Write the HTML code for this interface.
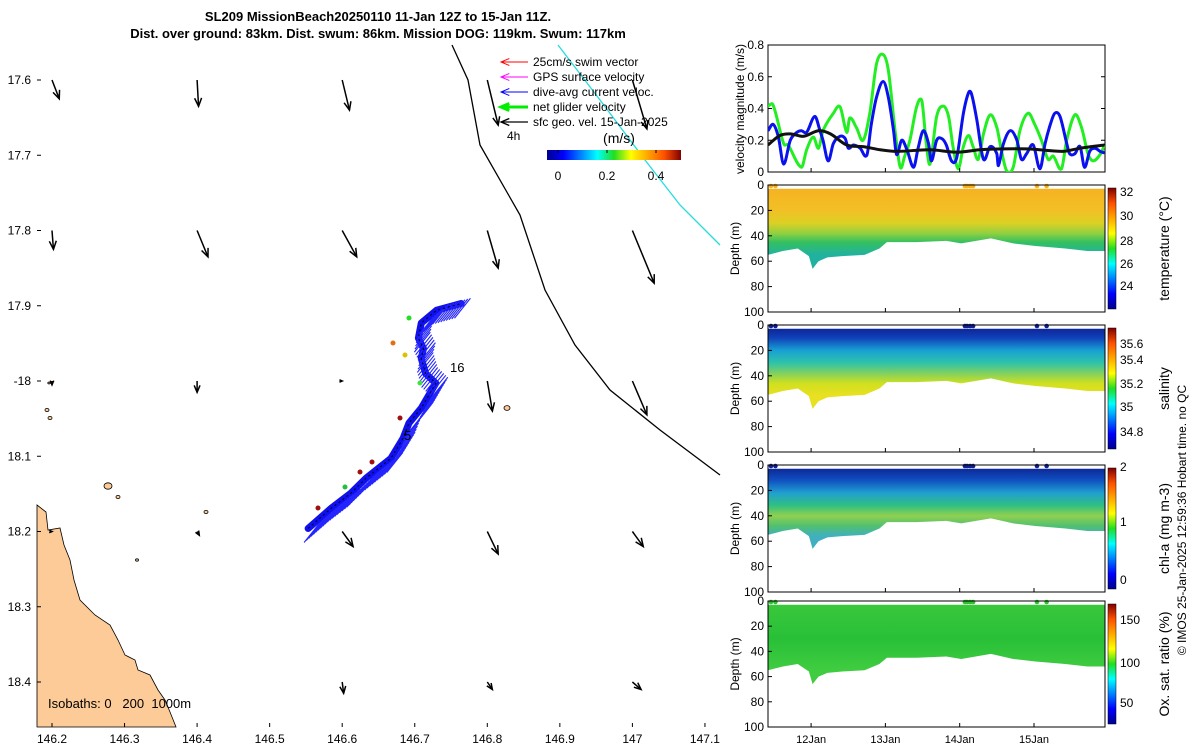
<!DOCTYPE html>
<html><head><meta charset="utf-8">
<style>
html,body{margin:0;padding:0;background:#fff;}
svg{display:block;font-family:"Liberation Sans","DejaVu Sans",sans-serif;}
</style></head>
<body>
<svg id="fig" width="1200" height="750" viewBox="0 0 1200 750" xmlns="http://www.w3.org/2000/svg">
<defs>
<linearGradient id="jetH" x1="0" y1="0" x2="1" y2="0">
<stop offset="0" stop-color="#00008f"/><stop offset="0.125" stop-color="#0000ff"/><stop offset="0.375" stop-color="#00ffff"/><stop offset="0.5" stop-color="#22dd22"/><stop offset="0.625" stop-color="#ffff00"/><stop offset="0.875" stop-color="#ff5000"/><stop offset="1" stop-color="#800000"/>
</linearGradient>
<linearGradient id="jetV" x1="0" y1="1" x2="0" y2="0">
<stop offset="0" stop-color="#00008f"/><stop offset="0.125" stop-color="#0000ff"/><stop offset="0.375" stop-color="#00ffff"/><stop offset="0.5" stop-color="#22dd22"/><stop offset="0.625" stop-color="#ffff00"/><stop offset="0.875" stop-color="#ff5000"/><stop offset="1" stop-color="#800000"/>
</linearGradient>
<linearGradient id="gTemp" x1="0" y1="0" x2="0" y2="1">
<stop offset="0" stop-color="#f6b020"/><stop offset="0.2" stop-color="#f2c026"/><stop offset="0.3" stop-color="#dcd024"/><stop offset="0.38" stop-color="#90d040"/><stop offset="0.45" stop-color="#34c060"/><stop offset="0.55" stop-color="#20b2a0"/>
</linearGradient>
<linearGradient id="gSal" x1="0" y1="0" x2="0" y2="1">
<stop offset="0" stop-color="#0c1c8c"/><stop offset="0.1" stop-color="#1040b8"/><stop offset="0.2" stop-color="#18a0d4"/><stop offset="0.3" stop-color="#30c4a8"/><stop offset="0.38" stop-color="#80d060"/><stop offset="0.46" stop-color="#d0e020"/><stop offset="0.55" stop-color="#e8e020"/>
</linearGradient>
<linearGradient id="gChl" x1="0" y1="0" x2="0" y2="1">
<stop offset="0" stop-color="#0c1c8c"/><stop offset="0.12" stop-color="#1050c0"/><stop offset="0.22" stop-color="#20a0d0"/><stop offset="0.32" stop-color="#30c080"/><stop offset="0.4" stop-color="#90d050"/><stop offset="0.48" stop-color="#50c070"/><stop offset="0.56" stop-color="#40b0c0"/>
</linearGradient>
<linearGradient id="gOx" x1="0" y1="0" x2="0" y2="1">
<stop offset="0" stop-color="#3cc83c"/><stop offset="0.3" stop-color="#28c038"/><stop offset="0.55" stop-color="#40cc40"/>
</linearGradient>
</defs>
<g id="root"></g>
</svg>
<script>
// ---- velocity panel data (days since panel start, m/s) ----
const greenT=[0,0.07,0.21,0.27,0.45,0.52,0.61,0.68,0.74,0.88,0.97,1.06,1.10,1.19,1.28,1.37,1.46,1.55,1.62,1.71,1.78,1.84,1.91,2.00,2.07,2.13,2.18,2.27,2.36,2.43,2.49,2.56,2.63,2.70,2.76,2.83,2.90,2.99,3.08,3.14,3.21,3.30,3.39,3.50,3.59,3.68,3.77,3.84,3.95,4.02,4.13,4.22,4.31,4.38,4.47,4.53];
const greenV=[0.415,0.42,0.18,0.17,0.03,0.14,0.22,0.15,0.26,0.37,0.41,0.25,0.34,0.28,0.20,0.37,0.68,0.74,0.64,0.26,0.03,0.10,0.20,0.41,0.45,0.18,0.05,0.35,0.415,0.35,0.16,0.02,0.16,0.23,0.16,0.08,0.24,0.36,0.28,0.14,0.01,0.03,0.26,0.37,0.30,0.20,0.08,0.10,0.02,0.20,0.36,0.28,0.11,0.07,0.11,0.17];
const blueT=[0,0.07,0.14,0.21,0.30,0.39,0.45,0.52,0.63,0.70,0.74,0.81,0.88,0.97,1.04,1.08,1.15,1.24,1.33,1.39,1.46,1.55,1.62,1.69,1.73,1.80,1.87,1.96,2.02,2.09,2.16,2.20,2.27,2.34,2.40,2.47,2.54,2.63,2.70,2.74,2.81,2.90,2.99,3.08,3.10,3.17,3.26,3.35,3.41,3.48,3.57,3.66,3.73,3.80,3.86,3.93,4.02,4.06,4.13,4.20,4.26,4.33,4.40,4.47,4.53];
const blueV=[0.26,0.30,0.22,0.05,0.20,0.25,0.26,0.25,0.35,0.26,0.20,0.07,0.18,0.225,0.21,0.15,0.17,0.15,0.105,0.30,0.47,0.57,0.47,0.26,0.11,0.20,0.14,0.03,0.15,0.26,0.18,0.07,0.20,0.21,0.17,0.07,0.09,0.37,0.50,0.49,0.33,0.08,0.16,0.115,0.04,0.18,0.26,0.20,0.08,0.115,0.17,0.02,0.18,0.30,0.37,0.35,0.18,0.115,0.115,0.16,0.03,0.13,0.15,0.13,0.12];
const blackT=[0,0.16,0.30,0.48,0.68,0.84,1.06,1.28,1.51,1.73,2.18,2.54,2.85,3.08,3.52,3.97,4.20,4.53];
const blackV=[0.17,0.23,0.24,0.225,0.26,0.24,0.17,0.16,0.14,0.13,0.14,0.125,0.14,0.145,0.145,0.13,0.15,0.17];
const velTicks=[0,0.2,0.4,0.6,0.8];
const dayTicks=["12Jan","13Jan","14Jan","15Jan"];
const dayTickPos=[0.58,1.58,2.58,3.58];
// dive bottom depth (m) over time
const diveT=[0,0.2,0.4,0.55,0.6,0.68,0.8,1.0,1.3,1.5,1.6,2.0,2.4,2.6,3.0,3.3,3.6,4.0,4.3,4.53];
const diveD=[55,52,50,56,66,60,57,56,55,50,45,45,44,46,42,46,48,50,52,52];
// surface-dot times (days)
const surfT=[0.04,0.1,2.65,2.68,2.72,2.76,3.62,3.75];
// map: wind arrows (lon, lat, dlon, dlat in degrees)
const arrLon=[146.2,146.4,146.6,146.8,147.0,146.2,146.4,146.6,146.8,147.0,146.2,146.4,146.6,146.8,147.0,146.2,146.4,146.6,146.8,147.0,146.6,146.8,147.0];
const arrLat=[17.6,17.6,17.6,17.6,17.6,17.8,17.8,17.8,17.8,17.8,18.0,18.0,18.0,18.0,18.0,18.2,18.2,18.2,18.2,18.2,18.4,18.4,18.4];
const arrDx=[0.01,0.002,0.01,0.015,0.02,0.002,0.015,0.02,0.015,0.03,0.0,0.0,0.0,0.007,0.02,0.0,0.003,0.015,0.015,0.015,0.002,0.007,0.012];
const arrDy=[0.025,0.035,0.04,0.06,0.065,0.025,0.035,0.035,0.05,0.07,0.005,0.015,0.0,0.04,0.045,0.0,0.005,0.02,0.03,0.02,0.015,0.01,0.01];
const lonTicks=[146.2,146.3,146.4,146.5,146.6,146.7,146.8,146.9,147,147.1];
const latTicks=[17.6,17.7,17.8,17.9,18.0,18.1,18.2,18.3,18.4];
const latLabels=["17.6","17.7","17.8","17.9","-18","18.1","18.2","18.3","18.4"];
const trackLon=[146.553,146.585,146.612,146.633,146.667,146.684,146.692,146.709,146.729,146.715,146.709,146.712,146.705,146.709,146.730,146.764];
const trackLat=[18.196,18.169,18.149,18.129,18.103,18.076,18.056,18.036,18.003,17.990,17.970,17.957,17.943,17.923,17.906,17.897];

const NS='http://www.w3.org/2000/svg';
const root=document.getElementById('root');
function el(tag,attrs,parent,text){const e=document.createElementNS(NS,tag);for(const k in attrs)e.setAttribute(k,attrs[k]);if(text!==undefined)e.textContent=text;(parent||root).appendChild(e);return e;}

const mx0=37,mx1=720,my0=45,my1=727;
const lonX=l=>52+(l-146.2)*725.5;
const latY=l=>80+(l-17.6)*752.5;

const title=el('g',{},root);


el('text',{x:378,y:21,'text-anchor':'middle','font-size':13,'font-weight':'bold'},title,'SL209 MissionBeach20250110 11-Jan 12Z to 15-Jan 11Z.');
el('text',{x:378,y:38,'text-anchor':'middle','font-size':13,'font-weight':'bold'},title,'Dist. over ground: 83km. Dist. swum: 86km. Mission DOG: 119km. Swum: 117km');

const coast=el('path',{d:'M37,727 L37,505 L46,512 L48,530 L60,528 L64,545 L70,560 L74,580 L80,600 L95,615 L110,625 L118,640 L125,655 L135,660 L138,670 L150,675 L158,690 L165,700 L170,712 L176,727 Z',fill:'#fdcb98',stroke:'#000','stroke-width':0.8});


[[47,410,2],[50,418,2],[108,486,4],[118,497,2],[206,512,2],[137,560,1.5],[507,408,3],[49,383,1.2]].forEach(p=>{
 const i=el('ellipse',{cx:p[0],cy:p[1],rx:p[2],ry:p[2]*0.8,fill:'#fdcb98',stroke:'#000','stroke-width':0.8});
 
 
});

const iso=el('polyline',{points:'452,45 468,80 480,145 520,215 545,290 575,345 610,390 660,430 720,475',fill:'none',stroke:'#000','stroke-width':1.3});


const cy=el('polyline',{points:'558,45 600,100 645,160 680,205 720,245',fill:'none',stroke:'#22dddd','stroke-width':1.3});



function arrow(x1,y1,x2,y2,color,w,parent){
 const g=el('g',{},parent);
 el('line',{x1:x1,y1:y1,x2:x2,y2:y2,stroke:color,'stroke-width':w},g);
 const a=Math.atan2(y2-y1,x2-x1),L=Math.min(9,Math.hypot(x2-x1,y2-y1)*0.4+3);
 el('polyline',{points:`${x2-L*Math.cos(a-0.4)},${y2-L*Math.sin(a-0.4)} ${x2},${y2} ${x2-L*Math.cos(a+0.4)},${y2-L*Math.sin(a+0.4)}`,fill:'none',stroke:color,'stroke-width':w},g);
 return g;
}
for(let i=0;i<arrLon.length;i++){
 const x=lonX(arrLon[i]),y=latY(arrLat[i]);
 const g=arrow(x,y,lonX(arrLon[i]+arrDx[i]),latY(arrLat[i]+arrDy[i]),'#000',1.5);
 
 
}

// glider track
const tg=el('g',{},root);


const pts=trackLon.map((l,i)=>lonX(l)+','+latY(trackLat[i])).join(' ');
el('polyline',{points:pts,fill:'none',stroke:'#1010ee','stroke-width':7,'stroke-linejoin':'round','stroke-linecap':'round'},tg);
for(let i=0;i<trackLon.length-1;i++){
 const x1=lonX(trackLon[i]),y1=latY(trackLat[i]),x2=lonX(trackLon[i+1]),y2=latY(trackLat[i+1]);
 const n=Math.max(3,Math.round(Math.hypot(x2-x1,y2-y1)/3));
 for(let k=0;k<n;k++){const f=k/n;const x=x1+(x2-x1)*f,y=y1+(y2-y1)*f;
  el('line',{x1:x-4,y1:y+14,x2:x+12,y2:y-6,stroke:'#2424ff','stroke-width':1.1},tg);}
}
el('polyline',{points:pts,fill:'none',stroke:'#000','stroke-width':1,'stroke-dasharray':'2,3'},tg);
[[393,343,'#e07010'],[405,355,'#e0c000'],[420,383,'#40e040'],[400,418,'#a01010'],[372,462,'#a01010'],[360,472,'#a01010'],[345,487,'#20c040'],[318,508,'#a01010'],[409,318,'#20e020']].forEach(p=>{
 el('circle',{cx:p[0],cy:p[1],r:2.5,fill:p[2]},tg);
});
el('text',{x:450,y:372,'font-size':13},root,'16');
el('text',{x:404,y:440,'font-size':13},root,'5');
el('text',{x:507,y:140,'font-size':12},root,'4h');
el('text',{x:48,y:708,'font-size':13},root,'Isobaths: 0\u00a0\u00a0\u00a0200\u00a0\u00a01000m');

const lg=el('g',{},root);


const legItems=[['25cm/s swim vector','#ff0000',1],['GPS surface velocity','#ff00ff',1],['dive-avg current veloc.','#0000ff',1],['net glider velocity','#00ee00',3],['sfc geo. vel. 15-Jan-2025','#000',1.3]];
legItems.forEach((it,i)=>{
 const y=62+i*15;
 const e=el('g',{},lg);
 
 
 arrow(528,y,501,y,it[1],it[2],e);
 el('text',{x:533,y:y+4,'font-size':12},e,it[0]);
});
const cbg=el('g',{},root);


el('text',{x:619,y:143,'font-size':14,'text-anchor':'middle'},cbg,'(m/s)');
el('rect',{x:547,y:150,width:134,height:10,fill:'url(#jetH)'},cbg);
[[558,'0'],[607,'0.2'],[656,'0.4']].forEach(t=>{el('text',{x:t[0],y:180,'font-size':12,'text-anchor':'middle'},cbg,t[1]);el('line',{x1:t[0],y1:150,x2:t[0],y2:153,stroke:'#000'},cbg);});

const ax=el('g',{},root);


lonTicks.forEach(l=>{const x=lonX(l);el('line',{x1:x,y1:my1,x2:x,y2:my1-4,stroke:'#000'},ax);el('text',{x:x,y:743,'font-size':12,'text-anchor':'middle'},ax,String(l));});
latTicks.forEach((l,i)=>{const y=latY(l);el('line',{x1:mx0,y1:y,x2:mx0+4,y2:y,stroke:'#000'},ax);el('text',{x:31,y:y+4,'font-size':12,'text-anchor':'end'},ax,latLabels[i]);});

const px0=768,px1=1105;
const tX=t=>px0+t*74.3;
function smoothPath(xs,ys){let d=`M${xs[0]},${ys[0]}`;const n=xs.length;
 for(let i=0;i<n-1;i++){const i0=Math.max(0,i-1),i3=Math.min(n-1,i+2);
  const lo=Math.min(ys[i],ys[i+1])-4,hi=Math.max(ys[i],ys[i+1])+4,cl=v=>Math.max(lo,Math.min(hi,v));
  const dx=xs[i+1]-xs[i];
  const m1=(ys[i+1]-ys[i0])/((xs[i+1]-xs[i0])||1),m2=(ys[i3]-ys[i])/((xs[i3]-xs[i])||1);
  d+=` C${xs[i]+dx/3},${cl(ys[i]+m1*dx/3)} ${xs[i+1]-dx/3},${cl(ys[i+1]-m2*dx/3)} ${xs[i+1]},${ys[i+1]}`;}
 return d;}
const vy0=172,vy1=45;const vY=v=>vy0-(v/0.8)*(vy0-vy1);
const vp=el('g',{},root);


el('rect',{x:px0,y:vy1,width:px1-px0,height:vy0-vy1,fill:'#fff',stroke:'#000','stroke-width':1},vp);
velTicks.forEach(v=>{const y=vY(v);el('line',{x1:px0,y1:y,x2:px0+4,y2:y,stroke:'#000'},vp);el('line',{x1:px1,y1:y,x2:px1-4,y2:y,stroke:'#000'},vp);el('text',{x:764,y:y+4,'font-size':12,'text-anchor':'end'},vp,String(v));});
el('text',{x:0,y:0,'font-size':12,'text-anchor':'middle',transform:`translate(744,109) rotate(-90)`},vp,'velocity magnitude (m/s)');
const cl=el('clipPath',{id:'vclip'},root);el('rect',{x:px0,y:vy1,width:px1-px0,height:vy0-vy1},cl);
const gl=el('path',{d:smoothPath(greenT.map(tX),greenV.map(vY)),fill:'none',stroke:'#22ee22','stroke-width':3,'clip-path':'url(#vclip)'},vp);


const bl=el('path',{d:smoothPath(blueT.map(tX),blueV.map(vY)),fill:'none',stroke:'#0a10ee','stroke-width':3,'clip-path':'url(#vclip)'},vp);


const kl=el('path',{d:smoothPath(blackT.map(tX),blackV.map(vY)),fill:'none',stroke:'#111','stroke-width':3,'clip-path':'url(#vclip)'},vp);



const panels=[
 {y0:185,y1:312,grad:'gTemp',name:'temperature-panel',label:'temperature (°C)',ticks:[[24,286],[26,264],[28,241],[30,216],[32,192]],dot:'#f5b020'},
 {y0:325,y1:452,grad:'gSal',name:'salinity-panel',label:'salinity',ticks:[[34.8,432],[35,407],[35.2,384],[35.4,360],[35.6,344]],dot:'#102090'},
 {y0:465,y1:592,grad:'gChl',name:'chlorophyll-panel',label:'chl-a (mg m-3)',ticks:[[0,580],[1,522],[2,467]],dot:'#102090'},
 {y0:601,y1:727,grad:'gOx',name:'oxygen-panel',label:'Ox. sat. ratio (%)',ticks:[[50,703],[100,663],[150,620]],dot:'#30c030'}];
const depthTicks=[0,20,40,60,80,100];
panels.forEach((p,pi)=>{
 const g=el('g',{},root);
 
 
 const dY=d=>p.y0+d/100*(p.y1-p.y0);
 const h=p.y1-p.y0;
 let d=`M${px0},${dY(3)} L${px1},${dY(3)}`;
 for(let i=diveT.length-1;i>=0;i--)d+=` L${tX(diveT[i])},${dY(diveD[i])}`;
 d+=' Z';
 el('rect',{x:px0,y:p.y0,width:px1-px0,height:h,fill:'#fff'},g);
 const gr=el('linearGradient',{id:'pg'+pi,gradientUnits:'userSpaceOnUse',x1:0,y1:p.y0,x2:0,y2:p.y1},g);
 document.getElementById(p.grad).querySelectorAll('stop').forEach(s=>el('stop',{offset:s.getAttribute('offset'),'stop-color':s.getAttribute('stop-color')},gr));
 el('path',{d:d,fill:'url(#pg'+pi+')'},g);
 surfT.forEach(t=>el('circle',{cx:tX(t),cy:p.y0+1,r:2.3,fill:p.dot},g));
 el('rect',{x:px0,y:p.y0,width:px1-px0,height:h,fill:'none',stroke:'#000'},g);
 depthTicks.forEach(v=>{const y=dY(v);el('line',{x1:px0,y1:y,x2:px0+4,y2:y,stroke:'#000'},g);el('text',{x:764,y:y+4,'font-size':12,'text-anchor':'end'},g,String(v));});
 el('text',{x:0,y:0,'font-size':12,'text-anchor':'middle',transform:`translate(739,${(p.y0+p.y1)/2}) rotate(-90)`},g,'Depth (m)');
 dayTickPos.forEach(t=>el('line',{x1:tX(t),y1:p.y1,x2:tX(t),y2:p.y1-4,stroke:'#000'},g));
 el('rect',{x:1108,y:p.y0+3,width:8,height:h-6,fill:'url(#jetV)',stroke:'#000','stroke-width':0.5},g);
 p.ticks.forEach(t=>el('text',{x:1120,y:t[1]+4,'font-size':12},g,String(t[0])));
 el('text',{x:0,y:0,'font-size':14,'text-anchor':'middle',transform:`translate(1169,${(p.y0+p.y1)/2}) rotate(-90)`},g,p.label);
});
dayTicks.forEach((s,i)=>{const t=el('text',{x:tX(dayTickPos[i]),y:743,'font-size':11,'text-anchor':'middle'},root,s);});
dayTickPos.forEach(t=>el('line',{x1:tX(t),y1:vy0,x2:tX(t),y2:vy0-4,stroke:'#000'},vp));
const cp=el('text',{x:0,y:0,'font-size':12,'text-anchor':'middle',transform:'translate(1186,520) rotate(-90)'},root,'© IMOS 25-Jan-2025 12:59:36 Hobart time. no QC');


</script>
</body></html>
